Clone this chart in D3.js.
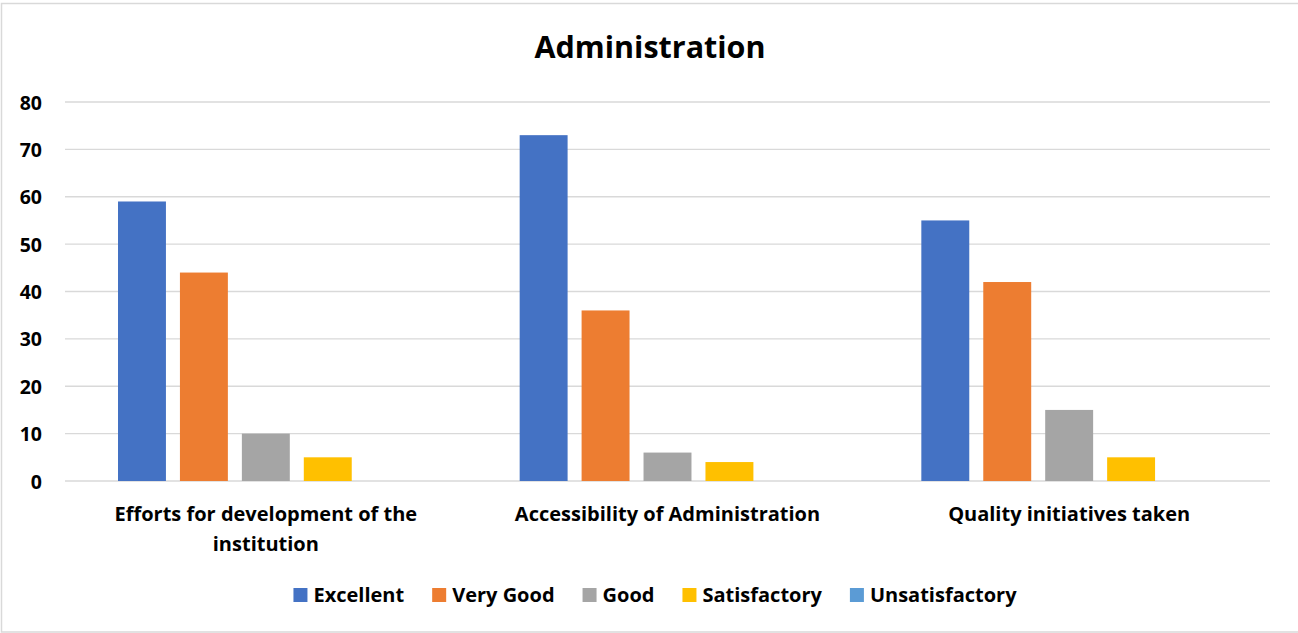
<!DOCTYPE html>
<html>
<head>
<meta charset="utf-8">
<script src="https://cdn.jsdelivr.net/npm/d3@7"></script>
<style>
  body { margin: 0; background: #fff; }
  text { font-family: "Open Sans", sans-serif; font-weight: bold; fill: #000; }
</style>
</head>
<body>
<svg id="chart" width="1298" height="633"></svg>
<script>
var categories = ["Efforts for development of the institution", "Accessibility of Administration", "Quality initiatives taken"];
var series = ["Excellent", "Very Good", "Good", "Satisfactory", "Unsatisfactory"];
var excellent = [59, 73, 55];
var veryGood = [44, 36, 42];
var good = [10, 6, 15];
var satisfactory = [5, 4, 5];
var unsatisfactory = [0, 0, 0];
var yTicks = [0, 10, 20, 30, 40, 50, 60, 70, 80];
var colors = ["#4472C4", "#ED7D31", "#A5A5A5", "#FFC000", "#5B9BD5"];

var values = [excellent, veryGood, good, satisfactory, unsatisfactory];

var svg = d3.select("#chart");
var margin = {left: 65, right: 28, top: 102, bottom: 152};
var width = 1298, height = 633;

// chart frame
svg.append("rect")
    .attr("x", 1.5).attr("y", 3.5)
    .attr("width", 1300).attr("height", 628.5)
    .attr("fill", "none").attr("stroke", "#D9D9D9").attr("stroke-width", 1.5);

var x0 = d3.scaleBand().domain(categories)
    .range([margin.left, width - margin.right])
    .paddingInner(0).paddingOuter(0);

var x1 = d3.scaleBand().domain(series)
    .range([53, x0.bandwidth() - 53])
    .paddingInner(0.226);

var y = d3.scaleLinear().domain([0, 80]).range([height - margin.bottom, margin.top]);

// gridlines
svg.append("g").selectAll("line").data(yTicks).enter().append("line")
    .attr("x1", margin.left).attr("x2", width - margin.right)
    .attr("y1", function(d) { return y(d); }).attr("y2", function(d) { return y(d); })
    .attr("stroke", "#D9D9D9").attr("stroke-width", 1.3);

// y axis labels
var yAxis = d3.axisLeft(y).tickValues(yTicks).tickSize(0).tickPadding(0);
var yg = svg.append("g").attr("transform", "translate(42,0)").call(yAxis);
yg.select(".domain").remove();
yg.selectAll("text").attr("font-size", 19.5).attr("dy", "0.36em")
    .style("font-family", "'Open Sans', sans-serif").style("font-weight", "bold").attr("fill", "#000");

// bars
var groups = svg.append("g").selectAll("g").data(categories).enter().append("g")
    .attr("transform", function(d) { return "translate(" + x0(d) + ",0)"; });

groups.selectAll("rect")
    .data(function(c, ci) { return series.map(function(s, si) { return {s: s, v: values[si][ci], c: colors[si]}; }); })
    .enter().append("rect")
    .attr("x", function(d) { return x1(d.s); })
    .attr("width", x1.bandwidth())
    .attr("y", function(d) { return y(d.v); })
    .attr("height", function(d) { return y(0) - y(d.v); })
    .attr("fill", function(d) { return d.c; });

// category labels
var catLines = [["Efforts for development of the", "institution"], ["Accessibility of Administration"], ["Quality initiatives taken"]];
categories.forEach(function(c, i) {
    var t = svg.append("text")
        .attr("x", x0(c) + x0.bandwidth() / 2)
        .attr("y", 521)
        .attr("text-anchor", "middle")
        .attr("font-size", 20);
    catLines[i].forEach(function(line, j) {
        t.append("tspan").attr("x", x0(c) + x0.bandwidth() / 2).attr("dy", j === 0 ? 0 : 30).text(line);
    });
});

// title
svg.append("text").attr("x", 650).attr("y", 58).attr("text-anchor", "middle")
    .attr("font-size", 30.5).text("Administration");

// legend
var legend = svg.append("g");
var lx = 0;
series.forEach(function(s, i) {
    var g = legend.append("g").attr("transform", "translate(" + lx + ",0)");
    g.append("rect").attr("x", 0).attr("y", -7).attr("width", 14).attr("height", 14).attr("fill", colors[i]);
    var t = g.append("text").attr("x", 20).attr("y", 0).attr("dy", "0.36em").attr("font-size", 20).text(s);
    lx += 20 + t.node().getComputedTextLength() + 28;
});
lx -= 28;
legend.attr("transform", "translate(" + (655 - lx / 2) + ",595)");
</script>
</body>
</html>
